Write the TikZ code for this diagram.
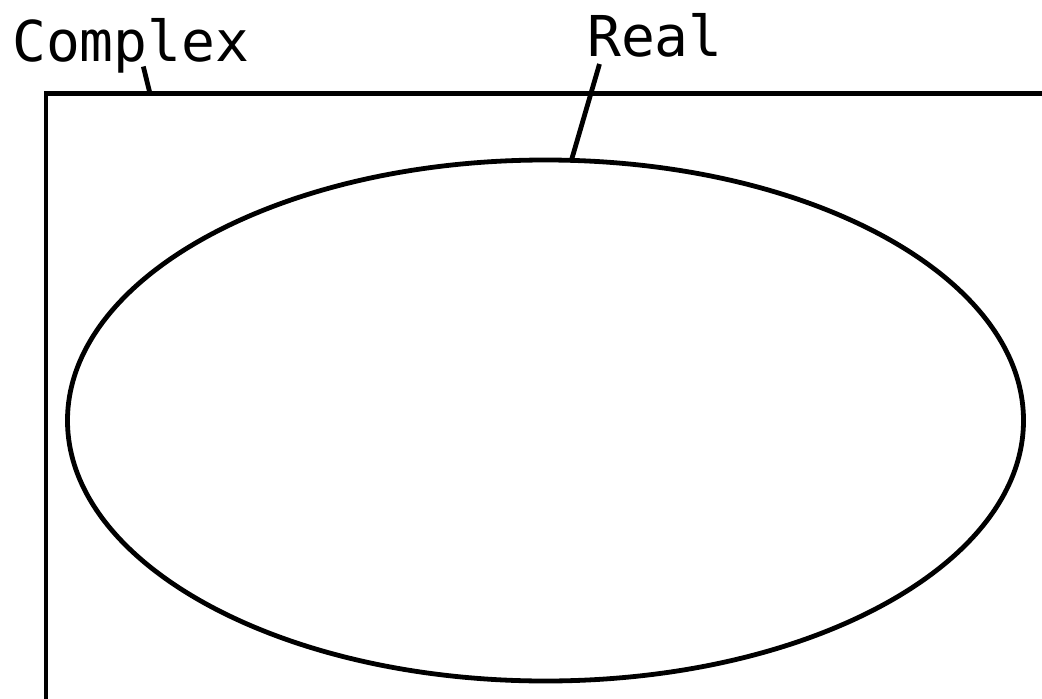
\documentclass[tikz,border=0pt]{standalone}
\usepackage{fontspec}
\setmonofont{DejaVu Sans Mono}
\usetikzlibrary{shapes.geometric}
\begin{document}
\begin{tikzpicture}[x=1pt,y=-1pt,
  outline/.style={draw=black,line width=4.8pt,outer sep=0pt,inner sep=0pt},
  lbl/.style={inner sep=0pt,anchor=base west,font=\ttfamily\fontsize{56.3}{60}\selectfont},
  leader/.style={draw=black,line width=4.8pt}]
\useasboundingbox (0,0) rectangle (1042,699);
\clip (0,0) rectangle (1042,699);
\fill[white] (0,0) rectangle (1042,699);
% complex plane box (extends past the right and bottom edges)
\node[outline,rectangle,minimum width=1060pt,minimum height=608pt,anchor=north west] (complexbox) at (46,93.5) {};
% real ellipse
\node[outline,ellipse,minimum width=956pt,minimum height=521pt] (realset) at (545.5,420.5) {};
% labels
\node[lbl] (complexlbl) at (12,61.5) {Complex};
\node[lbl] (reallbl) at (587,56.5) {Real};
% leader lines
\coordinate (cstart) at (143.3,66.5);
\coordinate (rstart) at (599.5,64);
\coordinate (cend) at (150,93.5);
\coordinate (rend) at (571.5,160);
\draw[leader] (cstart) -- (cend);
\draw[leader] (rstart) -- (rend);
\end{tikzpicture}
\end{document}
